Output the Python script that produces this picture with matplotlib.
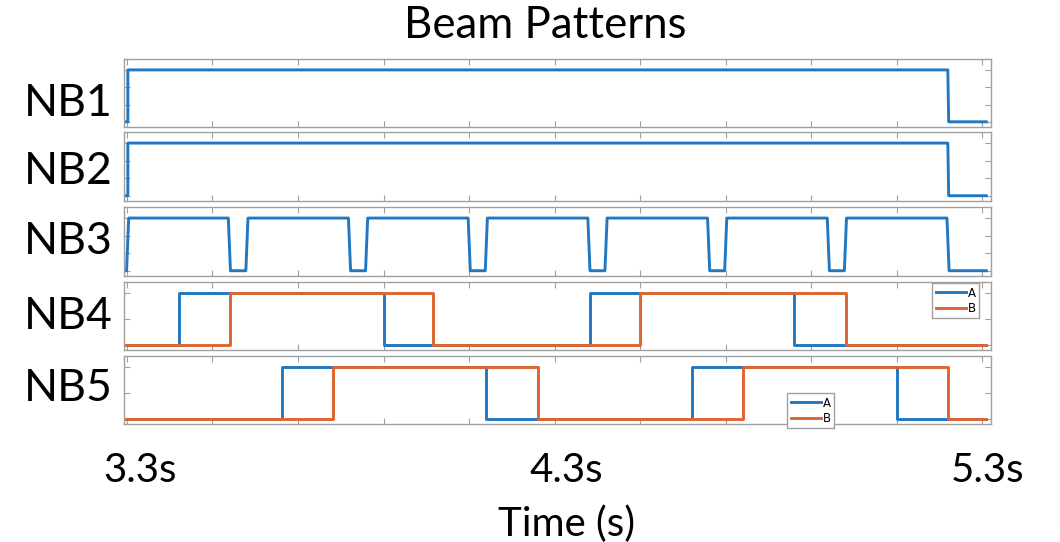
import matplotlib
matplotlib.use("Agg")
import matplotlib.pyplot as plt

# MATLAB-like line colours (slightly washed, as in the slide)
BLUE = "#1f78c1"
ORANGE = "#de6530"
FRAME = "#a0a0a0"

# Waveforms: (time in s, on/off level)
nb1_t = [3.295, 3.302, 3.302, 5.220, 5.222, 5.310]
nb1_v = [0, 0, 1, 1, 0, 0]

nb2_t = [3.295, 3.302, 3.302, 5.220, 5.222, 5.310]
nb2_v = [0, 0, 1, 1, 0, 0]

nb3_t = [3.295, 3.299, 3.304, 3.537, 3.542, 3.578, 3.583, 3.818, 3.823, 3.858, 3.863,
         4.098, 4.103, 4.138, 4.143, 4.378, 4.383, 4.418, 4.423, 4.658, 4.663,
         4.698, 4.703, 4.938, 4.943, 4.978, 4.983, 5.218, 5.223, 5.310]
nb3_v = [0, 0, 1, 1, 0, 0, 1, 1, 0, 0, 1,
         1, 0, 0, 1, 1, 0, 0, 1, 1, 0,
         0, 1, 1, 0, 0, 1, 1, 0, 0]

nb4a_t = [3.295, 3.422, 3.422, 3.901, 3.901, 4.383, 4.383, 4.860, 4.860, 5.310]
nb4a_v = [0, 0, 1, 1, 0, 0, 1, 1, 0, 0]
nb4b_t = [3.295, 3.541, 3.541, 4.016, 4.016, 4.500, 4.500, 4.982, 4.982, 5.310]
nb4b_v = [0, 0, 1, 1, 0, 0, 1, 1, 0, 0]

nb5a_t = [3.295, 3.663, 3.663, 4.140, 4.140, 4.622, 4.622, 5.101, 5.101, 5.310]
nb5a_v = [0, 0, 1, 1, 0, 0, 1, 1, 0, 0]
nb5b_t = [3.295, 3.782, 3.782, 4.261, 4.261, 4.741, 4.741, 5.220, 5.220, 5.310]
nb5b_v = [0, 0, 1, 1, 0, 0, 1, 1, 0, 0]

panel_names = ["NB1", "NB2", "NB3", "NB4", "NB5"]
time_labels = ["3.3s", "4.3s", "5.3s"]
x_ticks = [3.3, 3.5, 3.7, 3.9, 4.1, 4.3, 4.5, 4.7, 4.9, 5.1, 5.3]

W, H = 1060, 542
fig = plt.figure(figsize=(W / 100, H / 100), dpi=100)
plt.rcParams['font.family'] = ['Lato', 'DejaVu Sans']

# panel boxes in pixels (top, bottom)
boxes = [(59, 127), (132, 201), (207, 276), (282, 350), (356, 424)]
left_px, right_px = 124, 991

axes = []
for top, bot in boxes:
    ax = fig.add_axes([left_px / W, 1 - bot / H, (right_px - left_px) / W, (bot - top) / H])
    ax.set_xlim(3.293, 5.321)
    ax.set_ylim(-0.1, 1.21)
    ax.set_xticks(x_ticks)
    ax.tick_params(direction="in", length=4, width=0.8, color=FRAME,
                   top=True, right=True, labelbottom=False, labelleft=False)
    for s in ax.spines.values():
        s.set_color(FRAME)
        s.set_linewidth(1.0)
    axes.append(ax)

for ax in axes[:3]:
    ax.set_yticks([0, 1 / 3, 2 / 3, 1])
for ax in axes[3:]:
    ax.set_yticks([0, 0.5, 1])

axes[0].plot(nb1_t, nb1_v, color=BLUE, lw=2.1)
axes[1].plot(nb2_t, nb2_v, color=BLUE, lw=2.1)
axes[2].plot(nb3_t, nb3_v, color=BLUE, lw=2.1)
axes[3].plot(nb4a_t, nb4a_v, color=BLUE, lw=2.1, label="A")
axes[3].plot(nb4b_t, nb4b_v, color=ORANGE, lw=2.1, label="B")
axes[4].plot(nb5a_t, nb5a_v, color=BLUE, lw=2.1, label="A")
axes[4].plot(nb5b_t, nb5b_v, color=ORANGE, lw=2.1, label="B")

leg_kw = dict(loc="upper left", handlelength=2.6, handletextpad=0.1,
              borderpad=0.3, labelspacing=0.2, borderaxespad=0, fancybox=False,
              framealpha=1, edgecolor=FRAME, prop={"family": "DejaVu Sans", "size": 8.5})
axes[3].legend(bbox_to_anchor=(0.932, 0.985), **leg_kw)
axes[4].legend(bbox_to_anchor=(0.765, 0.456), **leg_kw)

# labels placed as in the slide
fig.text(545 / W, 1 - 38 / H, "Beam Patterns", ha="center", va="baseline", fontsize=31.5)
for name, base in zip(panel_names, [116, 184, 254, 329, 401]):
    fig.text(68 / W, 1 - base / H, name, ha="center", va="baseline", fontsize=32)
for lab, cx in zip(time_labels, [140, 566, 988]):
    fig.text(cx / W, 1 - 482 / H, lab, ha="center", va="baseline", fontsize=29)
fig.text(567 / W, 1 - 536 / H, "Time (s)", ha="center", va="baseline", fontsize=29)

fig.savefig("out.png", dpi=100)
